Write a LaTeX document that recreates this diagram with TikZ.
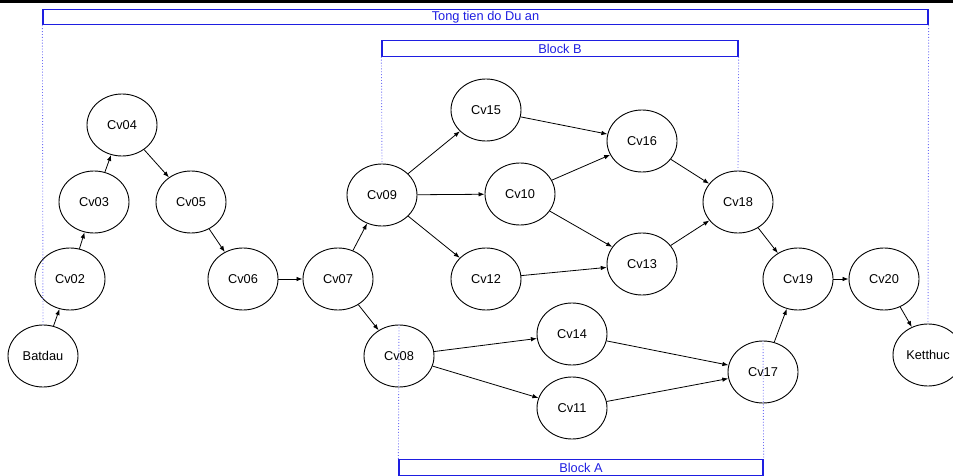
\documentclass[tikz,border=0pt]{standalone}
\usepackage{fontspec}
\setmainfont{Liberation Sans}
\usetikzlibrary{shapes.geometric,arrows.meta}
\definecolor{blockblue}{RGB}{30,30,225}
\definecolor{guideblue}{RGB}{110,110,245}
\begin{document}
\begin{tikzpicture}[x=1pt,y=-1pt,
    every node/.style={font=\fontsize{12.8pt}{14pt}\selectfont},
    job/.style={draw,ellipse,line width=0.9pt,minimum width=70pt,minimum height=62pt,inner sep=0pt},
    link/.style={-{Latex[length=6pt,width=4.5pt]},line width=0.8pt},
    block/.style={draw=blockblue,line width=1.2pt,text=blockblue,minimum height=15.5pt,inner sep=0pt},
    guide/.style={guideblue,dotted,line width=0.9pt}]
    \useasboundingbox (0,0) rectangle (953,476);
    \fill (0,0) rectangle (953,3);
    \node[block,minimum width=885pt] (tong) at (485.5,17) {Tong tien do Du an};
    \node[block,minimum width=356pt] (blockB) at (560,48.5) {Block B};
    \node[block,minimum width=364pt] (blockA) at (581,467.5) {Block A};
    \node[job] (batdau) at (43,356) {Batdau};
    \node[job] (cv02) at (70,279) {Cv02};
    \node[job] (cv03) at (94,202) {Cv03};
    \node[job] (cv04) at (122,125) {Cv04};
    \node[job] (cv05) at (191,202) {Cv05};
    \node[job] (cv06) at (243,279) {Cv06};
    \node[job] (cv07) at (338,279) {Cv07};
    \node[job] (cv09) at (382,195) {Cv09};
    \node[job] (cv08) at (399,356) {Cv08};
    \node[job] (cv15) at (486,110) {Cv15};
    \node[job] (cv10) at (520,194) {Cv10};
    \node[job] (cv12) at (486,279) {Cv12};
    \node[job] (cv16) at (642,141) {Cv16};
    \node[job] (cv13) at (642,264) {Cv13};
    \node[job] (cv18) at (738,202) {Cv18};
    \node[job] (cv14) at (572,334) {Cv14};
    \node[job] (cv11) at (572,408) {Cv11};
    \node[job] (cv17) at (763,372) {Cv17};
    \node[job] (cv19) at (798,279) {Cv19};
    \node[job] (cv20) at (884,279) {Cv20};
    \node[job] (ketthuc) at (928,355) {Ketthuc};
    \draw[link] (batdau) -- (cv02);
    \draw[link] (cv02) -- (cv03);
    \draw[link] (cv03) -- (cv04);
    \draw[link] (cv04) -- (cv05);
    \draw[link] (cv05) -- (cv06);
    \draw[link] (cv06) -- (cv07);
    \draw[link] (cv07) -- (cv09);
    \draw[link] (cv07) -- (cv08);
    \draw[link] (cv09) -- (cv15);
    \draw[link] (cv09) -- (cv10);
    \draw[link] (cv09) -- (cv12);
    \draw[link] (cv15) -- (cv16);
    \draw[link] (cv10) -- (cv16);
    \draw[link] (cv10) -- (cv13);
    \draw[link] (cv12) -- (cv13);
    \draw[link] (cv16) -- (cv18);
    \draw[link] (cv13) -- (cv18);
    \draw[link] (cv18) -- (cv19);
    \draw[link] (cv08) -- (cv14);
    \draw[link] (cv08) -- (cv11);
    \draw[link] (cv14) -- (cv17);
    \draw[link] (cv11) -- (cv17);
    \draw[link] (cv17) -- (cv19);
    \draw[link] (cv19) -- (cv20);
    \draw[link] (cv20) -- (ketthuc);
    \draw[guide] (tong.south west) -- (batdau.north);
    \draw[guide] (tong.south east) -- (ketthuc.north);
    \draw[guide] (blockB.south west) -- (cv09.north);
    \draw[guide] (blockB.south east) -- (cv18.north);
    \draw[guide] (cv08.north) -- (blockA.north west);
    \draw[guide] (cv17.north) -- (blockA.north east);
\end{tikzpicture}
\end{document}
